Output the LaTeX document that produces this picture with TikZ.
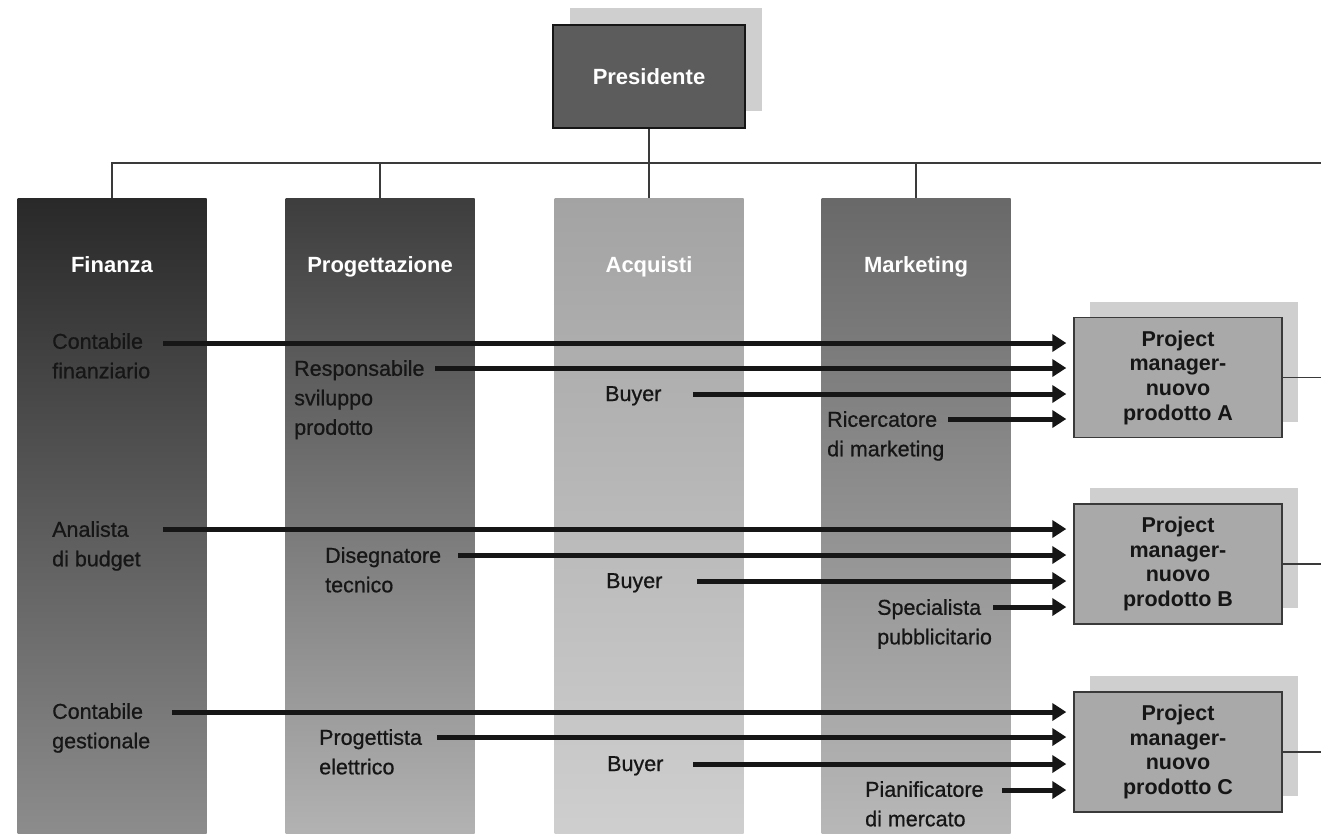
\documentclass[tikz,border=0pt]{standalone}
\usepackage{fontspec}
\setmainfont{Liberation Sans}
\newfontfamily\rolefont{Liberation Sans}[FakeBold=0.7]
\usetikzlibrary{arrows.meta,shadows}

\definecolor{ink}{HTML}{161616}
\definecolor{wire}{HTML}{3A3A3A}
\definecolor{presfill}{HTML}{5C5C5C}
\definecolor{pmfill}{HTML}{A9A9A9}
\definecolor{shadowgray}{HTML}{CFCFCF}

\begin{document}
\begin{tikzpicture}[x=1pt,y=-1pt,
  deptcol/.style={minimum width=189pt, minimum height=635pt, inner sep=0pt, draw=none},
  depthead/.style={text=white, font=\fontsize{22}{26}\selectfont\bfseries,
    text height=16pt, text depth=5pt, inner sep=0pt},
  orgline/.style={draw=wire, line width=1.6pt},
  pres/.style={fill=presfill, draw=ink, line width=1.8pt, minimum width=192pt, minimum height=103pt,
    text=white, font=\fontsize{22}{26}\selectfont\bfseries,
    drop shadow={shadow xshift=17pt, shadow yshift=17pt, fill=shadowgray, opacity=1}},
  pmbox/.style={fill=pmfill, draw=wire, line width=1.4pt, minimum width=208pt, minimum height=120pt,
    align=center, text=ink, font=\fontsize{21.5}{24.7}\selectfont\bfseries,
    drop shadow={shadow xshift=16pt, shadow yshift=16pt, fill=shadowgray, opacity=1}},
  role/.style={anchor=north west, inner sep=0pt, align=left, text=ink,
    font=\rolefont\fontsize{21.5}{29.5}\selectfont},
  flow/.style={draw=ink, line width=5pt, -{Triangle[length=14pt,width=17pt]}, shorten >=7pt},
]
\useasboundingbox (0,0) rectangle (1321,833);

% departments
\node[deptcol, top color={black!84}, middle color={black!60}, bottom color={black!45}] (fin) at (112,515.5) {};
\node[deptcol, top color={black!76}, middle color={black!52}, bottom color={black!30}] (prg) at (380,515.5) {};
\node[deptcol, top color={black!36}, middle color={black!30}, bottom color={black!19}] (acq) at (649,515.5) {};
\node[deptcol, top color={black!59}, middle color={black!40}, bottom color={black!28}] (mkt) at (916,515.5) {};

\node[depthead] (hfin) at (112,267) {Finanza};
\node[depthead] (hprg) at (380,267) {Progettazione};
\node[depthead] (hacq) at (649,267) {Acquisti};
\node[depthead] (hmkt) at (916,267) {Marketing};

% president and reporting lines
\node[pres] (pres) at (649,76.5) {Presidente};
\coordinate (busL) at (111,163);
\coordinate (busR) at (1321,163);
\draw[orgline] (busL) -- (busR);
\draw[orgline] (pres.south) -- (acq.north);
\draw[orgline] (fin.north) -- (fin.north |- busL);
\draw[orgline] (prg.north) -- (prg.north |- busL);
\draw[orgline] (mkt.north) -- (mkt.north |- busL);

% project managers
\node[pmbox] (pmA) at (1178,377.5) {Project\\manager-\\nuovo\\prodotto A};
\node[pmbox] (pmB) at (1178,564) {Project\\manager-\\nuovo\\prodotto B};
\node[pmbox] (pmC) at (1178,752) {Project\\manager-\\nuovo\\prodotto C};
\coordinate (edgeR) at (1321,0);
\draw[orgline] (pmA.east) -- (pmA.east -| edgeR);
\draw[orgline] (pmB.east) -- (pmB.east -| edgeR);
\draw[orgline] (pmC.east) -- (pmC.east -| edgeR);

% roles
\node[role] (cf)   at (52,333)  {Contabile\\finanziario};
\node[role] (rs)   at (294,360) {Responsabile\\sviluppo\\prodotto};
\node[role] (byA)  at (605,386) {Buyer};
\node[role] (ric)  at (827,411) {Ricercatore\\di marketing};
\node[role] (ana)  at (52,521)  {Analista\\di budget};
\node[role] (dis)  at (325,547) {Disegnatore\\tecnico};
\node[role] (byB)  at (606,573) {Buyer};
\node[role] (spe)  at (877,599) {Specialista\\pubblicitario};
\node[role] (cg)   at (52,703)  {Contabile\\gestionale};
\node[role] (pro)  at (319,729) {Progettista\\elettrico};
\node[role] (byC)  at (607,756) {Buyer};
\node[role] (pia)  at (865,781) {Pianificatore\\di mercato};

% assignments to the product teams
\coordinate (sA1) at (163,343);  \coordinate (sA2) at (435,368);
\coordinate (sA3) at (693,394);  \coordinate (sA4) at (948,419);
\coordinate (sB1) at (163,529);  \coordinate (sB2) at (458,555);
\coordinate (sB3) at (697,581);  \coordinate (sB4) at (993,607);
\coordinate (sC1) at (172,712);  \coordinate (sC2) at (437,737);
\coordinate (sC3) at (693,764);  \coordinate (sC4) at (1002,790);

\foreach \s in {sA1,sA2,sA3,sA4} \draw[flow] (\s) -- (\s -| pmA.west);
\foreach \s in {sB1,sB2,sB3,sB4} \draw[flow] (\s) -- (\s -| pmB.west);
\foreach \s in {sC1,sC2,sC3,sC4} \draw[flow] (\s) -- (\s -| pmC.west);
\end{tikzpicture}
\end{document}
